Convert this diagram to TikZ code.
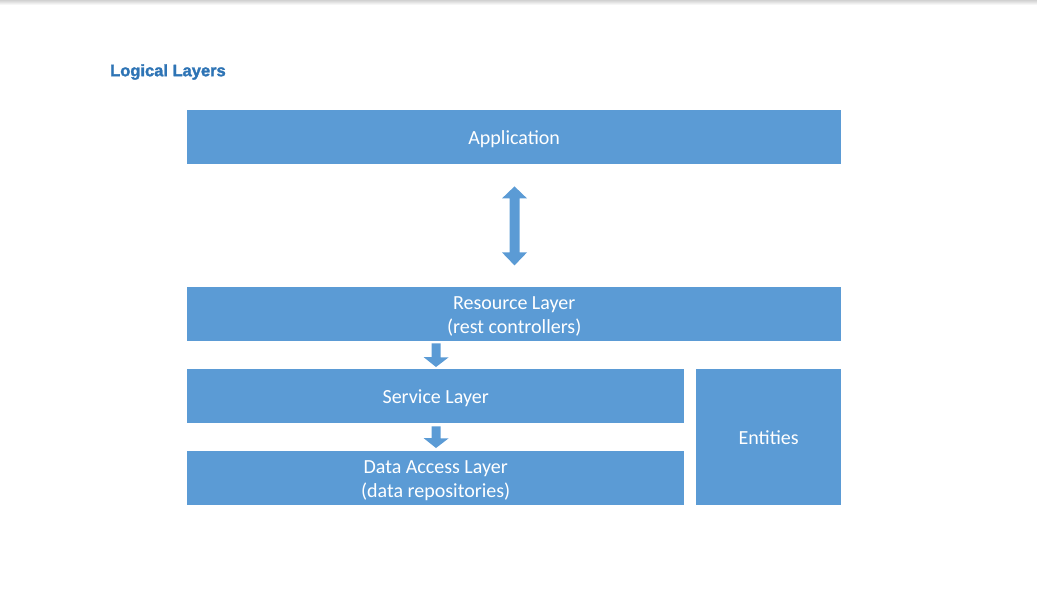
\documentclass[tikz,border=0pt]{standalone}
\usepackage{fontspec}
\setmainfont{Carlito}
\newfontfamily\titlefont[FakeBold=1.8]{Liberation Sans}
\usetikzlibrary{calc}
\definecolor{boxblue}{HTML}{5B9BD5}
\definecolor{titleblue}{HTML}{2E74B5}
\newcommand{\layertext}[1]{\raisebox{-2.5pt}[\height][\depth]{\begin{tabular}{@{}c@{}}#1\end{tabular}}}
\tikzset{
  layer/.style={draw=none, fill=boxblue, text=white, font=\fontsize{20}{24.5}\selectfont, inner sep=0pt, anchor=north west},
  blockarrow/.style={fill=boxblue, draw=none}
}
\begin{document}
\begin{tikzpicture}[x=1pt, y=-1pt]
\useasboundingbox (0,0) rectangle (1037,598);
\shade[top color=black!18, bottom color=white] (0,0) rectangle (1037,5);
\node[anchor=west, text=titleblue, font=\titlefont\bfseries\fontsize{16.5}{18}\selectfont, inner sep=0pt] (title) at (110,72) {Logical Layers};
\node[layer, minimum width=654pt, minimum height=54pt] (app) at (187,110) {\layertext{Application}};
\node[layer, minimum width=654pt, minimum height=54pt] (res) at (187,287) {\layertext{Resource Layer\\(rest controllers)}};
\node[layer, minimum width=497pt, minimum height=54pt] (svc) at (187,369) {\layertext{Service Layer}};
\node[layer, minimum width=497pt, minimum height=54pt] (dal) at (187,451) {\layertext{Data Access Layer\\(data repositories)}};
\node[layer, minimum width=145pt, minimum height=136pt] (ent) at (696,369) {\layertext{Entities}};
% double arrow between Application and Resource Layer
\coordinate (da) at (514.5,0);
\fill[blockarrow]
  ($(da |- app.south)+(0,22)$) -- ++(12.5,12) -- ++(-7.5,0) -- ++(0,54) -- ++(7.5,0)
  -- ++(-12.5,13) -- ++(-12.5,-13) -- ++(7.5,0) -- ++(0,-54) -- ++(-7.5,0) -- cycle;
% arrow Resource -> Service
\coordinate (sa) at (436,0);
\fill[blockarrow]
  ($(sa |- res.south)+(-4.5,2)$) -- ++(9,0) -- ++(0,14) -- ++(8,0) -- ($(sa |- svc.north)+(0,-2)$)
  -- ++(-12.5,-10) -- ++(8,0) -- cycle;
% arrow Service -> Data Access
\fill[blockarrow]
  ($(sa |- svc.south)+(-4.5,3)$) -- ++(9,0) -- ++(0,12) -- ++(8,0) -- ($(sa |- dal.north)+(0,-3)$)
  -- ++(-12.5,-10) -- ++(8,0) -- cycle;
\end{tikzpicture}
\end{document}
